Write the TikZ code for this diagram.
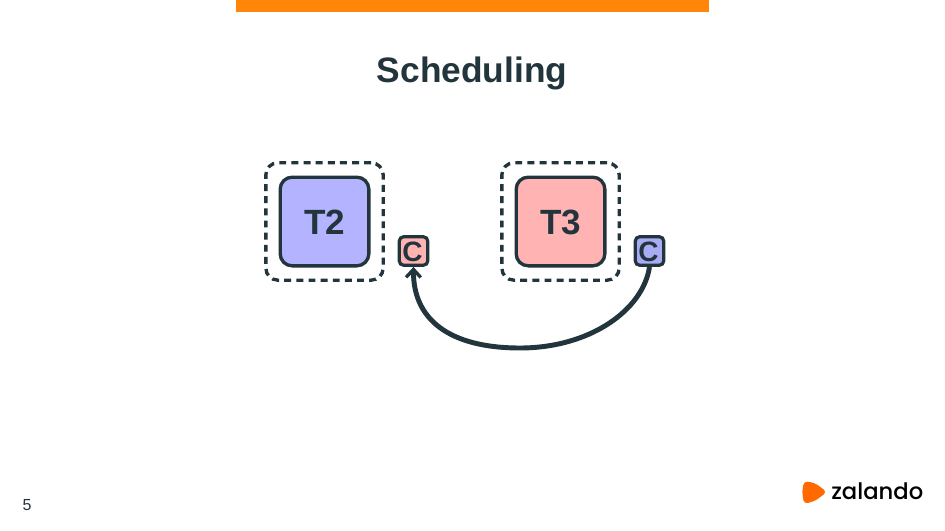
\documentclass[tikz,border=0pt]{standalone}
\usepackage{fontspec}
\setmainfont{Liberation Sans}
\newfontfamily\logofont{Poppins Medium}
\usetikzlibrary{arrows.meta}
\definecolor{ink}{HTML}{22343C}
\definecolor{bar}{HTML}{FF8608}
\definecolor{lblue}{HTML}{B3B3FF}
\definecolor{lred}{HTML}{FFB3B3}
\definecolor{mblue}{HTML}{A9ABF5}
\definecolor{zorange}{HTML}{FF6900}
\newcommand{\pxfont}[1]{\fontsize{#1}{#1}\selectfont}
\tikzset{
  task/.style={draw=ink,line width=2.5pt,rounded corners=9pt,minimum size=66.5pt,inner sep=0pt,font=\bfseries\pxfont{26pt},text=ink},
  tasklabel/.style={font=\bfseries\pxfont{26.3pt},text=ink,inner sep=0pt},
  frame/.style={draw=ink,line width=2.5pt,dash pattern=on 5.2pt off 3.9pt,rounded corners=9pt,minimum size=88pt,inner sep=0pt},
  cbox/.style={draw=ink,line width=2.4pt,rounded corners=3.5pt,minimum size=21.5pt,inner sep=0pt,font=\bfseries\pxfont{21pt},text=ink},
  flow/.style={draw=ink,line width=3.7pt,-{Straight Barb[length=6pt,width=11pt,line width=2.5pt]}}
}
\begin{document}
\begin{tikzpicture}[x=0.75pt,y=-0.75pt]
\useasboundingbox (0,0) rectangle (945,531);
\fill[white] (0,0) rectangle (945,531);
\node[fill=bar,minimum width=354.75pt,minimum height=9pt,inner sep=0pt] (topbar) at (472.5,6) {};
\node[font=\bfseries\pxfont{26.5pt},text=ink] (title) at (472,73) {Scheduling};
\node[frame] (f2) at (324.5,221.5) {};
\node[frame] (f3) at (560.5,221.5) {};
\node[task,fill=lblue] (t2) at (324.5,221.5) {};
\node[task,fill=lred] (t3) at (560.5,221.5) {};
\node[tasklabel] (t2l) at (324.5,222.5) {T2};
\node[tasklabel] (t3l) at (560.5,222.5) {T3};
\node[cbox,fill=lred] (c2) at (413.5,251) {};
\node[cbox,fill=mblue] (c3) at (649.5,251) {};
\node[font=\bfseries\pxfont{21pt},text=ink,inner sep=0pt] (c2l) at (412.5,251.5) {C};
\node[font=\bfseries\pxfont{21pt},text=ink,inner sep=0pt] (c3l) at (648.5,251.5) {C};
\draw[flow] (c3.south) .. controls (643,310) and (590,348) .. (520,348) .. controls (450,348) and (413,320) .. (c2.south);
\node[font=\pxfont{12pt},text=ink] (pg) at (27,505) {5};
\fill[zorange,rounded corners=3pt] (804,481) -- (815,483) -- (827,492) -- (815,501) -- (804,504) -- (802,492) -- cycle;
\node[font=\logofont\pxfont{17pt},text=black,anchor=west,inner sep=0pt] (logo) at (831,491) {zalando};
\end{tikzpicture}
\end{document}
